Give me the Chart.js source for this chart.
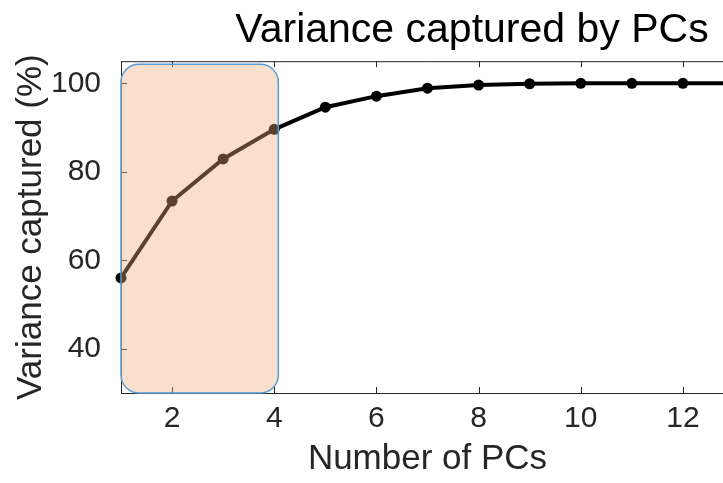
<!DOCTYPE html>
<html>
<head>
<meta charset="utf-8">
<script src="https://cdn.jsdelivr.net/npm/chart.js@4/dist/chart.umd.min.js"></script>
<style>
  html, body { margin: 0; padding: 0; background: #fff; overflow: hidden; }
  #wrap { width: 944px; height: 483px; position: relative; }
</style>
</head>
<body>
<div id="wrap"><canvas id="pcChart"></canvas></div>
<script>
// number of principal components and cumulative variance (%)
const pcs = [1, 2, 3, 4, 5, 6, 7, 8, 9, 10, 11, 12, 13];
const varianceCaptured = [56.0, 73.4, 82.9, 89.6, 94.6, 97.1, 98.9, 99.6, 99.9, 100, 100, 100, 100];

const xTicks = [2, 4, 6, 8, 10, 12];
const yTicks = [40, 60, 80, 100];

// shaded block over the first components: [xFrom, xTo] and [yFrom, yTo]
const highlightX = [1, 4.08];
const highlightY = [30, 104.3];

const textColor = '#262626';
const fontFamily = '"Liberation Sans", Helvetica, Arial, sans-serif';

// MATLAB-like box: top edge plus inward tick marks on every side
const boxTicks = {
    id: 'boxTicks',
    beforeDatasetsDraw(chart) {
        const { ctx, chartArea: a, scales: { x, y } } = chart;
        const len = 6;
        ctx.save();
        ctx.strokeStyle = textColor;
        ctx.lineWidth = 1;
        ctx.beginPath();
        ctx.moveTo(a.left, a.top + 0.5);
        ctx.lineTo(a.right, a.top + 0.5);
        ctx.moveTo(a.right - 0.5, a.top);
        ctx.lineTo(a.right - 0.5, a.bottom);
        xTicks.forEach(v => {
            const px = Math.round(x.getPixelForValue(v)) + 0.5;
            ctx.moveTo(px, a.bottom);
            ctx.lineTo(px, a.bottom - len);
            ctx.moveTo(px, a.top);
            ctx.lineTo(px, a.top + len);
        });
        yTicks.forEach(v => {
            const py = Math.round(y.getPixelForValue(v)) + 0.5;
            ctx.moveTo(a.left, py);
            ctx.lineTo(a.left + len, py);
            ctx.moveTo(a.right, py);
            ctx.lineTo(a.right - len, py);
        });
        ctx.stroke();
        ctx.restore();
    }
};

// translucent rounded block drawn over the line
const highlightBox = {
    id: 'highlightBox',
    afterDatasetsDraw(chart) {
        const { ctx, scales: { x, y } } = chart;
        const x0 = x.getPixelForValue(highlightX[0]);
        const x1 = x.getPixelForValue(highlightX[1]);
        const y0 = y.getPixelForValue(highlightY[1]);
        const y1 = y.getPixelForValue(highlightY[0]);
        ctx.save();
        ctx.beginPath();
        ctx.roundRect(x0, y0, x1 - x0, y1 - y0, 18);
        ctx.fillStyle = 'rgba(239, 170, 125, 0.38)';
        ctx.fill();
        ctx.strokeStyle = '#5B9BD5';
        ctx.lineWidth = 1.5;
        ctx.stroke();
        ctx.restore();
    }
};

new Chart(document.getElementById('pcChart'), {
    type: 'line',
    data: {
        datasets: [{
            data: pcs.map((p, i) => ({ x: p, y: varianceCaptured[i] })),
            borderColor: '#000',
            borderWidth: 4,
            pointRadius: 5.5,
            pointBackgroundColor: '#000',
            pointBorderWidth: 0,
            tension: 0,
            clip: false
        }]
    },
    options: {
        responsive: true,
        maintainAspectRatio: false,
        animation: false,
        layout: { padding: 0 },
        plugins: {
            legend: { display: false },
            tooltip: { enabled: false },
            title: {
                display: true,
                text: 'Variance captured by PCs',
                color: '#000',
                font: { family: fontFamily, size: 41, weight: 'normal', lineHeight: 1.2 },
                padding: { top: 6, bottom: 6 }
            }
        },
        scales: {
            x: {
                type: 'linear',
                min: 1,
                max: 13,
                afterBuildTicks: s => { s.ticks = xTicks.map(v => ({ value: v })); },
                afterFit: s => { s.height = 90; },
                grid: { display: false },
                border: { display: true, color: textColor, width: 1 },
                ticks: {
                    color: textColor,
                    padding: 0,
                    maxRotation: 0,
                    font: { family: fontFamily, size: 30 }
                },
                title: {
                    display: true,
                    text: 'Number of PCs',
                    color: textColor,
                    font: { family: fontFamily, size: 35, lineHeight: 1.2 },
                    padding: { top: 0, bottom: 3 }
                }
            },
            y: {
                type: 'linear',
                min: 30,
                max: 105,
                afterBuildTicks: s => { s.ticks = yTicks.map(v => ({ value: v })); },
                afterFit: s => { s.width = 121; },
                grid: { display: false },
                border: { display: true, color: textColor, width: 1 },
                ticks: {
                    color: textColor,
                    padding: 12,
                    font: { family: fontFamily, size: 30 }
                },
                title: {
                    display: true,
                    text: 'Variance captured (%)',
                    color: textColor,
                    font: { family: fontFamily, size: 35, lineHeight: 1.2 },
                    padding: { top: 10, bottom: 0 }
                }
            },
            // empty right-hand strip, keeps the plot box wider than the window
            yRight: {
                type: 'linear',
                position: 'right',
                display: true,
                afterFit: s => { s.width = 210; },
                grid: { display: false },
                border: { display: false },
                ticks: { display: false }
            }
        }
    },
    plugins: [boxTicks, highlightBox]
});
</script>
</body>
</html>
